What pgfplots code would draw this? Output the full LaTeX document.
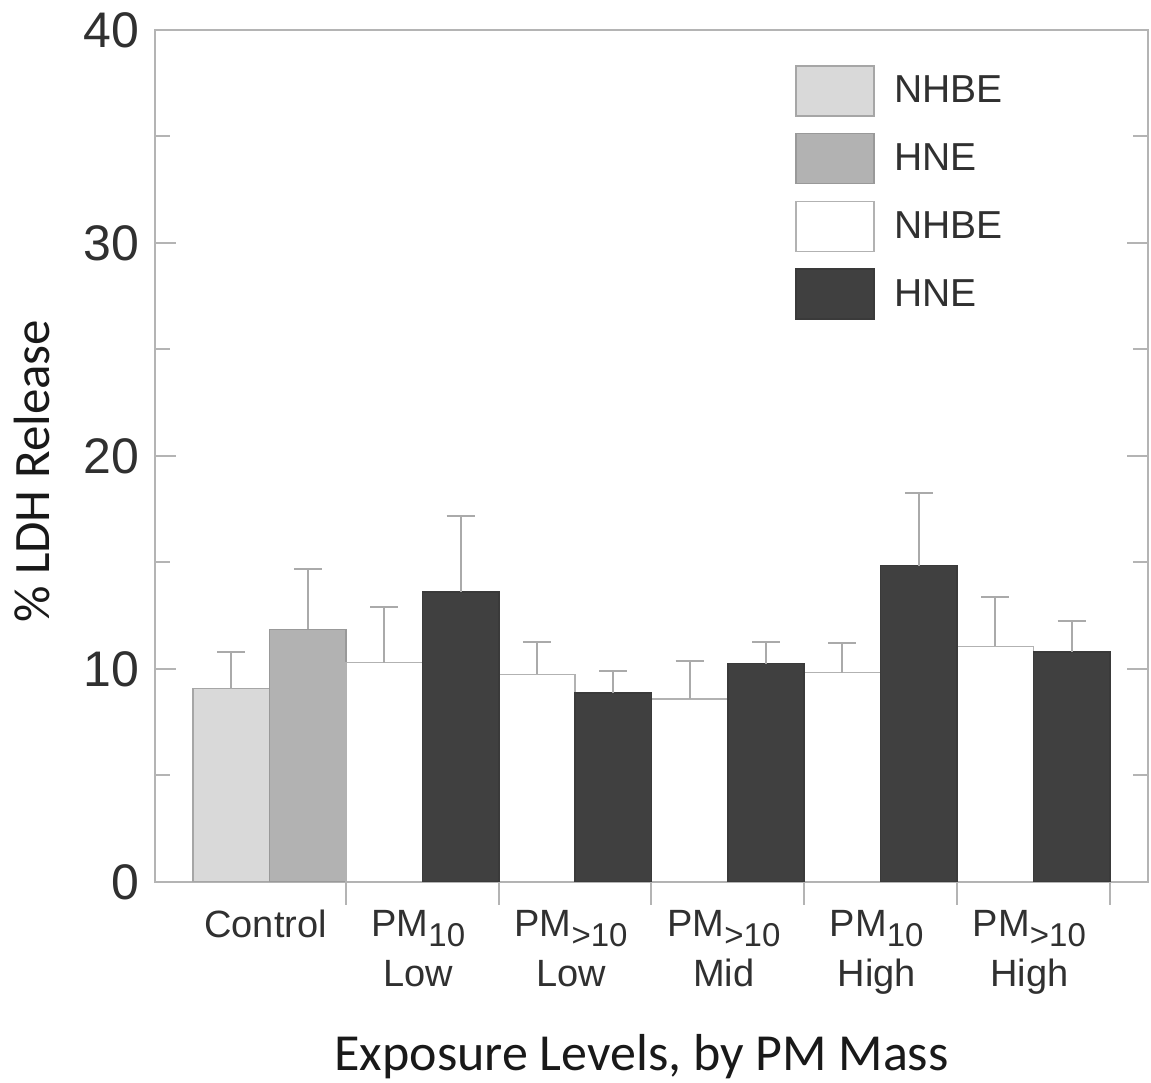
\documentclass[border=0pt]{standalone}
\usepackage{pgfplots}
\pgfplotsset{compat=1.18}
\usepackage{fontspec}
\setmainfont{Liberation Sans}
\newfontfamily\calib{Carlito}
\definecolor{txt}{HTML}{303030}
\definecolor{axisgray}{HTML}{B4B4B4}
\definecolor{c1}{HTML}{D9D9D9}
\definecolor{c2}{HTML}{B2B2B2}
\definecolor{c4}{HTML}{404040}
\definecolor{errc}{HTML}{AAAAAA}
\newcommand\sub[1]{\raisebox{-5pt}{\fontsize{16.5}{16.5}\selectfont #1}}
\begin{document}
\begin{tikzpicture}[text=txt]
\begin{axis}[
  name=ax,
  scale only axis, width=496.5pt, height=426pt,
  xmin=-0.75, xmax=5.75, ymin=0, ymax=40,
  ybar,
  legend image code/.code={\draw[#1] (0pt,-12.5pt) rectangle (39pt,12.5pt);},
  axis line style={draw=axisgray, line width=1pt},
  ytick={0,10,20,30,40}, minor ytick={5,15,25,35},
  ytick pos=both, tick align=inside,
  major tick length=10.5pt, minor tick length=7.5pt,
  every tick/.style={draw=axisgray, line width=1pt},
  xtick={0,1,2,3,4,5}, xtick pos=bottom,
  major x tick style={draw=none},
  xticklabels={Control, PM\sub{10}\\Low, PM\sub{>10}\\Low, PM\sub{>10}\\Mid, PM\sub{10}\\High, PM\sub{>10}\\High},
  xticklabel style={anchor=north, inner sep=0pt, yshift=-14pt, xshift=-2pt, align=center, font=\fontsize{19}{25}\selectfont},
  extra x ticks={0.5,1.5,2.5,3.5,4.5,5.5},
  extra x tick labels={},
  extra x tick style={major x tick style={draw=axisgray, line width=1pt}, tick align=outside, major tick length=11.5pt},
  yticklabel style={anchor=east, inner sep=0pt, xshift=-7.5pt, font=\fontsize{25}{25}\selectfont},
  /pgf/number format/assume math mode=true,
  ylabel={\calib\% LDH Release},
  ylabel style={at={(axis description cs:-0.124,0.482)}, anchor=center, rotate=0, text=black!90, font=\fontsize{25.5}{25.5}\selectfont},
  xlabel={\calib Exposure Levels, by PM Mass},
  xlabel style={at={(axis description cs:0.49,-0.2207)}, anchor=base, text=black!90, font=\fontsize{26}{26}\selectfont},
  legend style={at={(rel axis cs:0.6445,0.959)}, anchor=north west, draw=none, fill=none,
    font=\fontsize{19.5}{19.5}\selectfont, row sep=8.1pt, column sep=10pt,
    inner sep=0pt, outer sep=0pt, nodes={inner sep=0pt}},
  legend cell align=left,
  error bars/error bar style={draw=errc, line width=1pt},
  error bars/error mark options={rotate=90, mark size=7pt, draw=errc, line width=1pt},
]
\addplot[fill=c1, draw=gray!70, line width=0.8pt, bar width=0.5, bar shift=-0.25,
  error bars/.cd, y dir=plus, y explicit]
  coordinates {(0,9.08) +- (0,1.73)};
\addplot[fill=c2, draw=gray!80, line width=0.8pt, bar width=0.5, bar shift=0.25,
  error bars/.cd, y dir=plus, y explicit]
  coordinates {(0,11.86) +- (0,2.85)};
\addplot[fill=white, draw=gray!60, line width=0.8pt, bar width=0.5, bar shift=-0.25,
  error bars/.cd, y dir=plus, y explicit]
  coordinates {(1,10.30) +- (0,2.62) (2,9.75) +- (0,1.50) (3,8.58) +- (0,1.80) (4,9.83) +- (0,1.38) (5,11.06) +- (0,2.33)};
\addplot[fill=c4, draw=c4!90!black, line width=0.8pt, bar width=0.5, bar shift=0.25,
  error bars/.cd, y dir=plus, y explicit]
  coordinates {(1,13.62) +- (0,3.56) (2,8.86) +- (0,1.05) (3,10.25) +- (0,1.02) (4,14.85) +- (0,3.40) (5,10.81) +- (0,1.44)};
\legend{NHBE,HNE,NHBE,HNE}
\end{axis}
\pgfresetboundingbox
\path ([shift={(-77.5pt,-100.5pt)}]ax.south west) rectangle ([shift={(1.5pt,15pt)}]ax.north east);
\end{tikzpicture}
\end{document}
